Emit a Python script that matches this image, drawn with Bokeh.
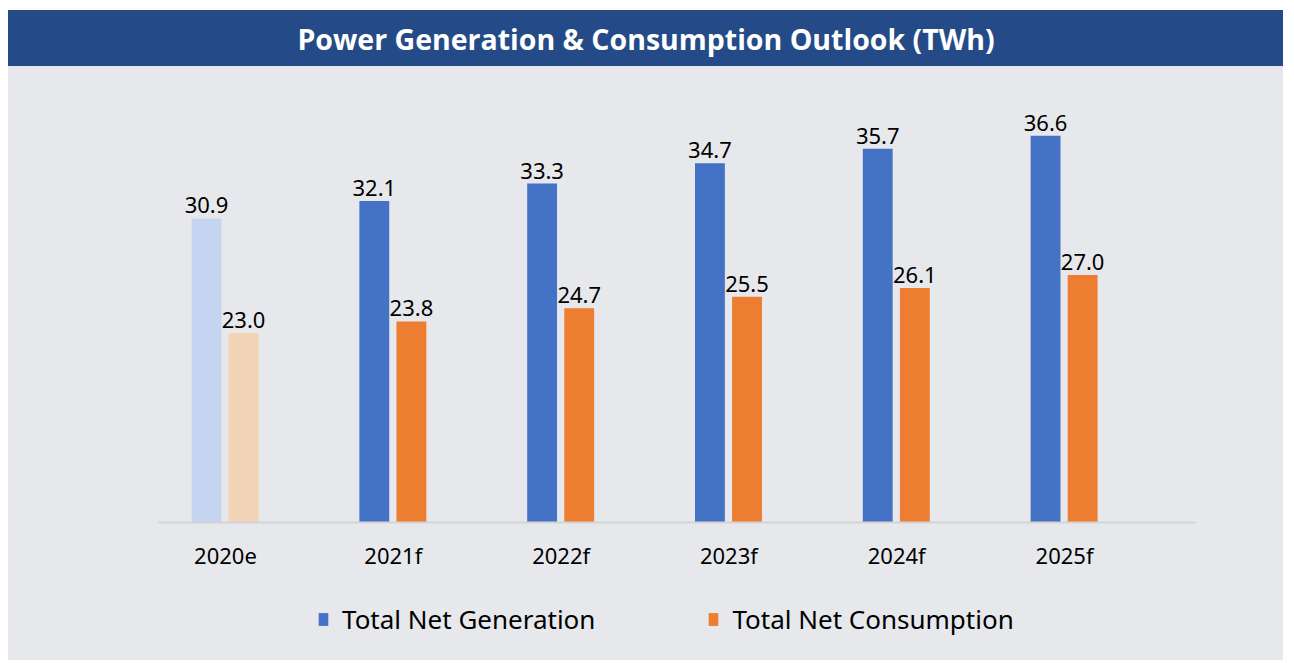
from bokeh.plotting import figure
from bokeh.layouts import column
from bokeh.models import ColumnDataSource, FixedTicker, Legend, LegendItem, Range1d, Label
from bokeh.core.properties import value
from bokeh.transform import dodge
from bokeh.embed import file_html
from bokeh.resources import INLINE

# ---- data ----
categories = ["2020e", "2021f", "2022f", "2023f", "2024f", "2025f"]
generation = [30.9, 32.1, 33.3, 34.7, 35.7, 36.6]
consumption = [23.0, 23.8, 24.7, 25.5, 26.1, 27.0]
title_text = "Power Generation & Consumption Outlook (TWh)"
series_names = ["Total Net Generation", "Total Net Consumption"]

# ---- styles ----
BG = "#E7E8EC"
TITLE_BG = "#244B87"
BLUE = "#4472C4"
ORANGE = "#ED7D31"
PALE_BLUE = "#C5D4F1"
PALE_ORANGE = "#F1D5B6"
FONT = "Noto Sans"
W = 1275

is_estimate = [c.endswith("e") for c in categories]
xs = list(range(len(categories)))
src = ColumnDataSource(dict(
    x=xs,
    gen=generation,
    con=consumption,
    gen_color=[PALE_BLUE if e else BLUE for e in is_estimate],
    con_color=[PALE_ORANGE if e else ORANGE for e in is_estimate],
    gen_label=[f"{v:.1f}" for v in generation],
    con_label=[f"{v:.1f}" for v in consumption],
))


def bare(fig, color):
    fig.background_fill_color = None
    fig.border_fill_color = color
    fig.outline_line_color = None
    fig.xgrid.visible = False
    fig.ygrid.visible = False
    fig.styles = {"background-color": color}


# ---- title bar ----
head = figure(width=W, height=56, toolbar_location=None, output_backend="svg",
              x_range=Range1d(0, 1), y_range=Range1d(0, 1),
              x_axis_location=None, y_axis_location=None, min_border=0)
bare(head, TITLE_BG)
head.add_layout(Label(x=0.5, y=0.5, text=title_text, text_align="center",
                      text_baseline="middle", text_color="white",
                      text_font="Open Sans", text_font_style="bold",
                      text_font_size="28.5px"))

# ---- chart ----
p = figure(frame_width=W, frame_height=456, toolbar_location=None, output_backend="svg",
           x_range=Range1d(-1.293, 6.305), y_range=Range1d(9.94, 41.37),
           y_axis_location=None,
           min_border_left=0, min_border_right=0, min_border_top=0, min_border_bottom=60)
bare(p, BG)

r_gen = p.vbar(x=dodge("x", -0.113, range=p.x_range), top="gen", width=0.178,
               fill_color="gen_color", line_color=None, source=src)
r_con = p.vbar(x=dodge("x", 0.108, range=p.x_range), top="con", width=0.178,
               fill_color="con_color", line_color=None, source=src)

for off, col in ((-0.113, "gen"), (0.108, "con")):
    p.text(x=dodge("x", off, range=p.x_range), y=col, text=col + "_label", source=src,
           text_align="center", text_baseline="bottom", y_offset=-5,
           text_font=value(FONT), text_font_size="22px", text_color="black")

ax = p.xaxis[0]
ax.ticker = FixedTicker(ticks=xs)
ax.major_label_overrides = {i: c for i, c in zip(xs, categories)}
ax.major_tick_line_color = None
ax.minor_tick_line_color = None
ax.major_tick_out = 0
ax.major_tick_in = 0
ax.axis_line_color = "#D3D4D6"
ax.axis_line_width = 2
ax.bounds = (-0.40, 5.78)
ax.major_label_standoff = 17
ax.major_label_text_font = FONT
ax.major_label_text_font_size = "22px"
ax.major_label_text_color = "black"

# ---- legend strip ----
lg = figure(width=W, height=78, toolbar_location=None, output_backend="svg",
            x_range=Range1d(0, 1), y_range=Range1d(0, 1),
            x_axis_location=None, y_axis_location=None, min_border=0)
bare(lg, BG)
l_gen = lg.vbar(x="x", top="gen", width=0.1, fill_color="gen_color", line_color=None,
                source=src, visible=False)
l_con = lg.vbar(x="x", top="con", width=0.1, fill_color="con_color", line_color=None,
                source=src, visible=False)
legend = Legend(items=[LegendItem(label=series_names[0], renderers=[l_gen], index=1),
                       LegendItem(label=series_names[1], renderers=[l_con], index=1)],
                orientation="horizontal", location=(309, 23),
                background_fill_alpha=0, border_line_color=None,
                inactive_fill_alpha=0,
                label_text_font=FONT, label_text_font_size="26px", label_text_color="black",
                glyph_width=12, glyph_height=16, label_standoff=13, spacing=112,
                padding=6, margin=0)
lg.add_layout(legend)

layout = column(head, p, lg, spacing=0, margin=(10, 0, 0, 8),
                styles={"background-color": BG})
open("out.html", "w").write(file_html(layout, INLINE))
